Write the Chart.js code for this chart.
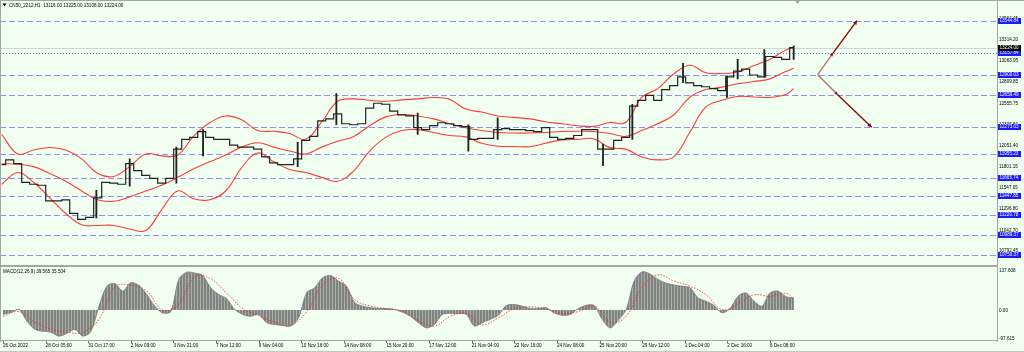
<!DOCTYPE html>
<html>
<head>
<meta charset="utf-8">
<title>CN50_2212,H1</title>
<script src="https://cdn.jsdelivr.net/npm/chart.js@4.4.0/dist/chart.umd.min.js"></script>
<style>
  html, body { margin: 0; padding: 0; background: #f0fff0; }
  #wrap { position: relative; width: 1024px; height: 352px; overflow: hidden; background: #f0fff0; }
  #wrap canvas { position: absolute; left: 0; }
  #mainChart { top: 0; }
  #macdChart { top: 267px; }
</style>
</head>
<body>
<div id="wrap">
  <canvas id="mainChart" width="1024" height="267"></canvas>
  <canvas id="macdChart" width="1024" height="85"></canvas>
</div>
<script>
// H1 bars, sampled every STEP bars for price / macd, every BAND_STEP for bands
const STEP = 6;
const BAND_STEP = 12;
const LAST_BAR = 594;

const timeTickBars = [0, 32, 64, 96, 128, 160, 192, 224, 256, 288, 320, 352, 384, 416, 448, 480, 512, 544, 576];
const timeLabels = ['26 Oct 2022', '28 Oct 05:00', '31 Oct 17:00', '2 Nov 09:00', '3 Nov 21:00', '7 Nov 12:00',
  '9 Nov 04:00', '10 Nov 16:00', '14 Nov 08:00', '15 Nov 20:00', '17 Nov 12:00', '21 Nov 04:00',
  '22 Nov 16:00', '24 Nov 08:00', '25 Nov 20:00', '29 Nov 12:00', '1 Dec 04:00', '2 Dec 16:00', '6 Dec 08:00'];

const priceTicks = [13564.45, 13314.20, 13063.95, 12809.85, 12555.75, 12305.50, 12051.40, 11801.15,
  11547.05, 11296.80, 11042.70, 10792.45];

const closes = [
  11825, 11883, 11837, 11615, 11592, 11580, 11394, 11394, 11406, 11243,
  11173, 11196, 11429, 11615, 11604, 11592, 11837, 11755, 11697, 11662,
  11604, 11662, 12011, 12128, 12151, 12221, 12151, 12128, 12128, 12058,
  12035, 12035, 12011, 11918, 11848, 11825, 11825, 11895, 12116, 12163,
  12349, 12372, 12431, 12314, 12302, 12314, 12500, 12559, 12547, 12465,
  12419, 12407, 12267, 12244, 12291, 12326, 12314, 12291, 12279, 12128,
  12139, 12139, 12244, 12256, 12244, 12244, 12232, 12221, 12267, 12151,
  12128, 12139, 12174, 12244, 12244, 12011, 12011, 12116, 12151, 12524,
  12594, 12652, 12594, 12722, 12768, 12873, 12803, 12768, 12756, 12733,
  12710, 12873, 12943, 12966, 12896, 12873, 13117, 13106, 13083, 13224
];

// spikes (high/low wicks) that stick out of the bars
const wickBars  = [71, 96, 131, 151, 222, 251, 312, 350, 372, 451, 473, 511, 544, 552, 572, 594];
const wickLows  = [11190, 11569, 11604, 11930, 11802, 12302, 12186, 11988, 12128, 11813, 12128, 12803, 12628, 12850, 12873, 13083];
const wickHighs = [11520, 11895, 12035, 12244, 12093, 12675, 12442, 12302, 12384, 12070, 12547, 13036, 12885, 13083, 13199, 13245];

const upperBand = [
  12186, 11953, 12000, 12031, 12000, 11895, 11720, 11685, 11802, 11953,
  11930, 11941, 12166, 12326, 12407, 12361, 12233, 12224, 12198, 12128,
  12337, 12582, 12611, 12594, 12582, 12599, 12611, 12628, 12605, 12489,
  12454, 12407, 12390, 12372, 12337, 12314, 12291, 12283, 12329, 12329,
  12628, 12733, 12908, 13013, 12923, 12914, 12931, 13007, 13082, 13193,
  13222
];
const middleBand = [
  11837, 11831, 11802, 11720, 11627, 11511, 11406, 11388, 11441, 11511,
  11580, 11674, 11778, 11860, 11941, 12035, 12087, 12035, 11988, 11953,
  12035, 12104, 12163, 12291, 12396, 12425, 12407, 12372, 12314, 12267,
  12233, 12209, 12203, 12203, 12209, 12221, 12224, 12221, 12198, 12163,
  12233, 12314, 12419, 12628, 12722, 12751, 12791, 12818, 12850, 12937,
  12978
];
const lowerBand = [
  11592, 11732, 11615, 11429, 11243, 11107, 11100, 11100, 11057, 11039,
  11289, 11511, 11418, 11406, 11511, 11790, 11965, 11860, 11767, 11732,
  11674, 11627, 11752, 11988, 12151, 12233, 12244, 12209, 12174, 12157,
  12081, 12046, 12043, 12040, 12081, 12122, 12128, 12134, 12029, 12011,
  11918, 11883, 11918, 12209, 12512, 12594, 12640, 12634, 12628, 12663,
  12733
];

const macdHist = [
  -14, -7, 2, -36, -63, -69, -72, -85, -76, -63,
  -85, -70, 12, 78, 87, 62, 90, 81, 51, 13,
  -9, -5, 100, 124, 121, 113, 73, 51, 37, 2,
  -14, -20, -14, -41, -47, -50, -52, -25, 57, 73,
  106, 113, 95, 78, 25, 13, 8, 5, 5, 2,
  -7, -20, -41, -58, -47, -14, -11, -11, -14, -52,
  -41, -30, -17, 15, 18, 13, 5, 5, 8, -9,
  -17, -14, 5, 16, 15, -30, -58, -33, 2, 95,
  125, 118, 100, 88, 82, 78, 73, 40, 29, 15,
  -9, 5, 45, 56, 29, 13, 56, 62, 44, 39.565
];
const macdSignal = [
  -20, -5, -40, -62, -72, -72, -30, 75, 82, 62,
  0, 20, 110, 102, 55, 5, -18, -40, -50, -5,
  80, 104, 35, 13, 5, -3, -35, -52, -20, -11,
  -48, -25, 5, 11, 3, -10, -5, 13, -40, -20,
  75, 115, 95, 78, 50, 2, 20, 50, 45, 55,
  35.504
];

const levels = [13544.84, 13157.84, 12900.03, 12659.49, 12273.03, 11955.23, 11665.74, 11447.85, 11220.78, 10989.37, 10750.37];
const dottedLevel = 13157.84;
const lastClose = 13224.00;

// projection arrows: vertex, up-mid, up-end, down-mid, down-end
const projBars   = [612, 623.5, 641.5, 627, 652.5];
const projPrices = [12900.03, 13157.84, 13544.84, 12659.49, 12273.03];

const X_MIN = -1.275, X_MAX = 746.5;
const FONT = '"Liberation Sans", Arial, sans-serif';
const fnt = s => s + 'px ' + FONT;

const pricePts = closes.map((v, i) => ({ x: i * STEP, y: v }));
const bandPts = arr => arr.map((v, k) => ({ x: k < arr.length - 1 ? k * BAND_STEP : LAST_BAR, y: v }));
const wickPts = wickBars.map((b, i) => ({ x: b, y: [wickLows[i], wickHighs[i]] }));
const histPts = macdHist.map((v, i) => ({ x: i * STEP, y: v }));

function line(ctx, x1, y1, x2, y2) {
  ctx.beginPath(); ctx.moveTo(x1, y1); ctx.lineTo(x2, y2); ctx.stroke();
}

function arrowHead(ctx, fx, fy, tx, ty, size, color) {
  const a = Math.atan2(ty - fy, tx - fx);
  ctx.fillStyle = color;
  ctx.beginPath();
  ctx.moveTo(tx, ty);
  ctx.lineTo(tx - size * Math.cos(a - 0.5), ty - size * Math.sin(a - 0.5));
  ctx.lineTo(tx - size * Math.cos(a + 0.5), ty - size * Math.sin(a + 0.5));
  ctx.closePath();
  ctx.fill();
}

function labelBox(ctx, y, text, bg) {
  ctx.fillStyle = bg;
  ctx.fillRect(998, Math.round(y) - 3, 23, 6);
  ctx.fillStyle = '#ffffff';
  ctx.font = fnt(4.6);
  ctx.textAlign = 'left';
  ctx.textBaseline = 'middle';
  ctx.fillText(text, 999.5, Math.round(y) + 0.2);
}

const mainDecor = {
  id: 'mainDecor',
  beforeDatasetsDraw(chart) {
    const { ctx, chartArea: a, scales: { y } } = chart;
    ctx.save();
    ctx.lineWidth = 1;
    ctx.strokeStyle = '#d2d6d2';
    const by = Math.round(y.getPixelForValue(lastClose)) + 0.5;
    line(ctx, a.left, by, a.right, by);
    levels.forEach(v => {
      const py = Math.round(y.getPixelForValue(v)) + 0.5;
      if (v === dottedLevel) {
        ctx.setLineDash([1, 2]);
        ctx.strokeStyle = '#7070ff';
      } else {
        ctx.setLineDash([6, 3]);
        ctx.strokeStyle = '#8e8eff';
      }
      line(ctx, a.left, py, a.right, py);
    });
    ctx.restore();
  },
  afterDatasetsDraw(chart) {
    const { ctx, scales: { x, y } } = chart;
    const p = projBars.map((b, i) => [x.getPixelForValue(b), y.getPixelForValue(projPrices[i])]);
    ctx.save();
    ctx.lineWidth = 1.4;
    [[0, 1, 2], [0, 3, 4]].forEach(([v, m, e]) => {
      ctx.strokeStyle = '#b57474';
      line(ctx, p[v][0], p[v][1], p[m][0], p[m][1]);
      ctx.strokeStyle = '#8b0a0a';
      line(ctx, p[m][0], p[m][1], p[e][0], p[e][1]);
      arrowHead(ctx, p[v][0], p[v][1], p[m][0], p[m][1], 3.5, '#8b0a0a');
      arrowHead(ctx, p[m][0], p[m][1], p[e][0], p[e][1], 4.5, '#8b0a0a');
    });
    ctx.restore();
  },
  afterDraw(chart) {
    const { ctx, chartArea: a, scales: { x, y } } = chart;
    ctx.save();
    levels.forEach(v => labelBox(ctx, y.getPixelForValue(v), v.toFixed(2), '#1a1aff'));
    labelBox(ctx, y.getPixelForValue(lastClose), lastClose.toFixed(2), '#000000');
    // frame
    ctx.fillStyle = '#a3a8a3';
    ctx.fillRect(0, 0, 1024, 1);
    ctx.fillRect(0, 0, 1, 267);
    ctx.fillRect(a.right, 0, 1, 267);
    ctx.fillRect(0, 265, a.right + 1, 2);
    // shift marker
    const sx = x.getPixelForValue(LAST_BAR + 3);
    ctx.fillStyle = '#9a9a9a';
    ctx.beginPath(); ctx.moveTo(sx - 2, 1); ctx.lineTo(sx + 2, 1); ctx.lineTo(sx, 4); ctx.closePath(); ctx.fill();
    // title
    ctx.fillStyle = '#000';
    ctx.beginPath(); ctx.moveTo(2.5, 3.5); ctx.lineTo(6.5, 3.5); ctx.lineTo(4.5, 6.5); ctx.closePath(); ctx.fill();
    ctx.font = fnt(4.6);
    ctx.textAlign = 'left';
    ctx.textBaseline = 'middle';
    ctx.fillText('CN50_2212,H1  13116.00 13225.00 13108.00 13224.00', 9, 5.5);
    ctx.restore();
  }
};

const macdDecor = {
  id: 'macdDecor',
  afterDraw(chart) {
    const { ctx, chartArea: a, scales: { x } } = chart;
    ctx.save();
    ctx.fillStyle = '#a3a8a3';
    ctx.fillRect(0, 0, 1, 75);
    ctx.fillRect(a.right, 0, 1, 75);
    ctx.fillRect(0, a.bottom, a.right + 1, 1);
    ctx.fillStyle = '#c4c8c4';
    ctx.fillRect(0, 84, 1024, 1);
    ctx.fillStyle = '#707070';
    timeTickBars.forEach(b => {
      const px = Math.round(x.getPixelForValue(b));
      ctx.fillRect(px, a.bottom + 1, 1, 2);
    });
    ctx.fillStyle = '#000';
    ctx.font = fnt(4.6);
    ctx.textAlign = 'left';
    ctx.textBaseline = 'middle';
    ctx.fillText('137.608', 999, 3.8);
    ctx.fillText('0.00', 999, 44);
    ctx.fillText('-97.615', 999, 72);
    ctx.fillText('MACD(12,26,9) 39.565 35.504', 3, 4.3);
    ctx.restore();
  }
};

Chart.defaults.font.family = FONT;

new Chart(document.getElementById('mainChart'), {
  type: 'line',
  data: {
    datasets: [
      { label: 'Close', data: pricePts, borderColor: '#202420', borderWidth: 1.2, stepped: 'middle', pointRadius: 0 },
      { type: 'bar', label: 'Wicks', data: wickPts, backgroundColor: '#202420', barThickness: 1.2 },
      { label: 'Upper', data: bandPts(upperBand), borderColor: '#ff3a3a', borderWidth: 1.1, tension: 0.4, pointRadius: 0 },
      { label: 'Middle', data: bandPts(middleBand), borderColor: '#ff3a3a', borderWidth: 1.1, tension: 0.4, pointRadius: 0 },
      { label: 'Lower', data: bandPts(lowerBand), borderColor: '#ff3a3a', borderWidth: 1.1, tension: 0.4, pointRadius: 0 }
    ]
  },
  options: {
    responsive: false,
    animation: false,
    devicePixelRatio: 1,
    events: [],
    layout: { padding: { top: 2, bottom: 1, left: 0, right: 0 } },
    plugins: { legend: { display: false }, tooltip: { enabled: false } },
    scales: {
      x: { type: 'linear', min: X_MIN, max: X_MAX, offset: false, display: false },
      y: {
        position: 'right', min: 10660.6, max: 13734.6,
        afterFit: s => { s.width = 27; },
        afterBuildTicks: s => { s.ticks = priceTicks.map(v => ({ value: v })); },
        grid: { display: false, drawTicks: false },
        border: { display: false },
        ticks: { autoSkip: false, padding: 2, color: '#000', font: { size: 4.6 }, callback: v => v.toFixed(2) }
      }
    }
  },
  plugins: [mainDecor]
});

// striped fill like the MT4 histogram
const stripe = document.createElement('canvas');
stripe.width = 3; stripe.height = 1;
const sctx = stripe.getContext('2d');
sctx.fillStyle = '#808380'; sctx.fillRect(0, 0, 2, 1);
sctx.fillStyle = '#a9aea9'; sctx.fillRect(2, 0, 1, 1);
const macdCanvas = document.getElementById('macdChart');
const histFill = macdCanvas.getContext('2d').createPattern(stripe, 'repeat');

new Chart(macdCanvas, {
  type: 'line',
  data: {
    datasets: [
      { label: 'Signal', data: bandPts(macdSignal), borderColor: '#ff2020', borderWidth: 0.8, borderDash: [1.5, 1.5], tension: 0.4, pointRadius: 0 },
      { label: 'MACD', data: histPts, borderColor: '#777a77', backgroundColor: histFill, borderWidth: 0.8, tension: 0.3, fill: 'origin', pointRadius: 0 }
    ]
  },
  options: {
    responsive: false,
    animation: false,
    devicePixelRatio: 1,
    events: [],
    layout: { padding: { top: 1, bottom: 0, left: 0, right: 0 } },
    plugins: { legend: { display: false }, tooltip: { enabled: false } },
    scales: {
      x: {
        type: 'linear', min: X_MIN, max: X_MAX, offset: false,
        afterFit: s => { s.height = 12; },
        afterBuildTicks: s => { s.ticks = timeTickBars.map(v => ({ value: v })); },
        grid: { display: false, drawTicks: false },
        border: { display: false },
        ticks: { autoSkip: false, maxRotation: 0, align: 'start', padding: 3, color: '#000', font: { size: 4.6 },
          callback: (v, i) => timeLabels[i] }
      },
      y: {
        position: 'right', min: -97.615, max: 137.608,
        afterFit: s => { s.width = 27; },
        grid: { display: false, drawTicks: false },
        border: { display: false },
        ticks: { display: false }
      }
    }
  },
  plugins: [macdDecor]
});
</script>
</body>
</html>
